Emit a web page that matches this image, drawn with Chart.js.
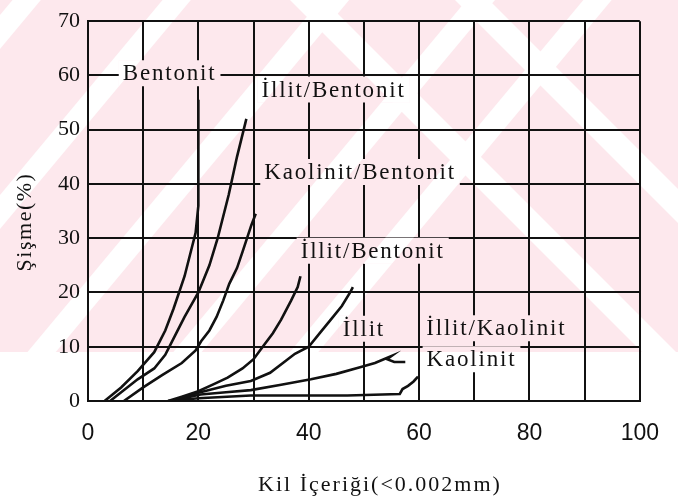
<!DOCTYPE html>
<html>
<head>
<meta charset="utf-8">
<script src="https://cdn.jsdelivr.net/npm/chart.js@4/dist/chart.umd.min.js"></script>
<style>
	body { margin: 0; background: #ffffff; }
	canvas { display: block; }
</style>
</head>
<body>
<canvas id="swellChart" width="678" height="500"></canvas>
<script>
// Swelling (%) against clay content for the different clay mixtures
const bentonitKil = [3, 6, 9, 12, 14, 15.5, 16.5, 17.5, 18.5, 19.5, 20, 20, 20];
const bentonitSisme = [0, 2.5, 5.5, 9, 13, 17, 20, 23, 27, 31, 36, 45, 55.5];

const illitBentonitKil = [4, 9, 12, 14, 16, 17.5, 20, 22, 23.5, 25.5, 27, 28.7];
const illitBentonitSisme = [0, 4, 6, 8.5, 12.5, 15.5, 20, 25, 30, 38, 45, 52];

const kaolinitBentonitKil = [6.5, 10, 13.5, 17, 19.5, 20.5, 22, 23.3, 24.5, 25.6, 27, 28, 29.6, 30.4];
const kaolinitBentonitSisme = [0, 2.5, 4.8, 7, 9.3, 11, 13, 15.5, 18.5, 21.6, 24.5, 27.5, 32.4, 34.5];

const illitBentonit2Kil = [14.5, 17, 20, 23, 25.3, 28, 30, 31.8, 33.5, 35, 36.8, 38, 38.5];
const illitBentonit2Sisme = [0, 0.8, 1.8, 3.2, 4.3, 6, 7.7, 10.2, 12.5, 15, 18.5, 21, 23];

const illitKil = [15, 20, 25, 29.5, 33, 37.5, 40, 42, 44, 46, 47.5, 48];
const illitSisme = [0, 1.5, 2.8, 3.7, 5.2, 8.7, 10, 12.5, 15, 17.5, 20, 21];

const illitKaolinitKil = [15, 20.4, 25, 29.5, 35, 40.4, 45, 49.3, 52, 55, 54.2, 55.5, 57.5];
const illitKaolinitSisme = [0, 1.2, 1.6, 2, 3, 4, 5, 6.2, 7, 8.3, 7.7, 7.2, 7.2];

const kaolinitKil = [14.5, 20, 29.5, 40, 47, 56.5, 57, 58, 59, 59.8];
const kaolinitSisme = [0, 0.5, 1, 1, 1, 1.3, 2.2, 2.8, 3.6, 4.5];

// Axis tick steps
const xTickStep = 10;
const xLabelStep = 20;
const yTickStep = 10;

// Curve names written inside the plot, placed in data units
const curveNames = ["Bentonit", "İllit/Bentonit", "Kaolinit/Bentonit", "İllit/Bentonit", "İllit", "İllit/Kaolinit", "Kaolinit"];
const curveNameKil = [14.8, 44.5, 49.3, 51.6, 50, 74, 69.5];
const curveNameSisme = [60.4, 57.4, 42.2, 27.7, 13.3, 13.4, 7.7];

const xTitle = "Kil İçeriği(<0.002mm)";
const yTitle = "Şişme(%)";

const ink = "#111111";
const pink = "#fde8ed";
const serif = "'Liberation Serif', 'DejaVu Serif', serif";

function toPoints(xs, ys) {
	return xs.map((x, i) => ({ x: x, y: ys[i] }));
}

// Pink diagonal striped backdrop
function drawBackdrop(ctx, width) {
	ctx.save();
	ctx.beginPath();
	ctx.rect(0, 0, width, 352);
	ctx.clip();
	ctx.fillStyle = pink;
	ctx.fillRect(0, 0, width, 352);
	ctx.fillStyle = "#ffffff";
	// "/" bands
	[15, 195, 385, 560, 700].forEach((c) => {
		const w = 34;
		ctx.beginPath();
		ctx.moveTo(0, c);
		ctx.lineTo(0, c + w);
		ctx.lineTo((c + w) / 1.2, 0);
		ctx.lineTo(c / 1.2, 0);
		ctx.closePath();
		ctx.fill();
	});
	// "\" bands on the right
	[290, 455].forEach((e) => {
		const w = 34;
		ctx.beginPath();
		ctx.moveTo(e, 0);
		ctx.lineTo(e + w, 0);
		ctx.lineTo(e + w + 400, 400);
		ctx.lineTo(e + 400, 400);
		ctx.closePath();
		ctx.fill();
	});
	ctx.restore();
}

const backdropPlugin = {
	id: "backdrop",
	beforeDraw(chart) {
		drawBackdrop(chart.ctx, chart.width);
	},
};

// Curve names, with the grid cleared behind them
const curveNamePlugin = {
	id: "curveNames",
	beforeDatasetsDraw(chart) {
		const ctx = chart.ctx;
		const xScale = chart.scales.x;
		const yScale = chart.scales.y;
		ctx.save();
		ctx.font = "23px " + serif;
		ctx.letterSpacing = "1.8px";
		ctx.textAlign = "center";
		ctx.textBaseline = "middle";
		curveNames.forEach((name, i) => {
			const cx = xScale.getPixelForValue(curveNameKil[i]);
			const cy = yScale.getPixelForValue(curveNameSisme[i]);
			const w = ctx.measureText(name).width;
			ctx.save();
			ctx.beginPath();
			ctx.rect(cx - w / 2 - 4, cy - 13, w + 8, 26);
			ctx.clip();
			drawBackdrop(ctx, chart.width);
			ctx.fillStyle = "#ffffff";
			ctx.fillRect(cx - w / 2 - 4, 352, w + 8, 40);
			ctx.restore();
			ctx.fillStyle = ink;
			ctx.fillText(name, cx, cy + 1);
		});
		ctx.restore();
	},
};

const axisTitlePlugin = {
	id: "axisTitles",
	afterDraw(chart) {
		const ctx = chart.ctx;
		ctx.save();
		ctx.font = "22px " + serif;
		ctx.letterSpacing = "2px";
		ctx.fillStyle = ink;
		ctx.textAlign = "center";
		ctx.textBaseline = "middle";
		ctx.fillText(xTitle, 380, 485);
		ctx.translate(25, 222);
		ctx.rotate(-Math.PI / 2);
		ctx.letterSpacing = "1.5px";
		ctx.fillText(yTitle, 0, 0);
		ctx.restore();
	},
};

const lineStyle = {
	showLine: true,
	borderColor: ink,
	borderWidth: 2.6,
	pointRadius: 0,
	tension: 0,
};

const swellChart = new Chart(document.getElementById("swellChart").getContext("2d"), {
	type: "scatter",
	data: {
		datasets: [
			{ label: "Bentonit", data: toPoints(bentonitKil, bentonitSisme), ...lineStyle },
			{ label: "İllit/Bentonit", data: toPoints(illitBentonitKil, illitBentonitSisme), ...lineStyle },
			{ label: "Kaolinit/Bentonit", data: toPoints(kaolinitBentonitKil, kaolinitBentonitSisme), ...lineStyle },
			{ label: "İllit/Bentonit", data: toPoints(illitBentonit2Kil, illitBentonit2Sisme), ...lineStyle },
			{ label: "İllit", data: toPoints(illitKil, illitSisme), ...lineStyle },
			{ label: "İllit/Kaolinit", data: toPoints(illitKaolinitKil, illitKaolinitSisme), ...lineStyle },
			{ label: "Kaolinit", data: toPoints(kaolinitKil, kaolinitSisme), ...lineStyle },
		],
	},
	options: {
		responsive: false,
		animation: false,
		layout: {
			padding: { top: 17, right: 31, left: 0, bottom: 0 },
		},
		plugins: {
			legend: { display: false },
			tooltip: { enabled: false },
		},
		scales: {
			x: {
				type: "linear",
				min: 0,
				max: 100,
				afterFit: (scale) => {
					scale.height = 99;
				},
				ticks: {
					stepSize: xTickStep,
					autoSkip: false,
					maxRotation: 0,
					padding: 19,
					color: ink,
					font: { family: "'Liberation Sans', Arial, sans-serif", size: 23 },
					callback: (value) => (value % xLabelStep === 0 ? value : ""),
				},
				grid: { color: ink, lineWidth: 2, drawTicks: false },
				border: { color: ink, width: 2 },
			},
			y: {
				type: "linear",
				min: 0,
				max: 70,
				afterFit: (scale) => {
					scale.width = 88;
				},
				ticks: {
					stepSize: yTickStep,
					padding: 8,
					color: ink,
					font: { family: serif, size: 22 },
				},
				grid: { color: ink, lineWidth: 2, drawTicks: false },
				border: { color: ink, width: 2 },
			},
		},
	},
	plugins: [backdropPlugin, curveNamePlugin, axisTitlePlugin],
});
</script>
</body>
</html>
